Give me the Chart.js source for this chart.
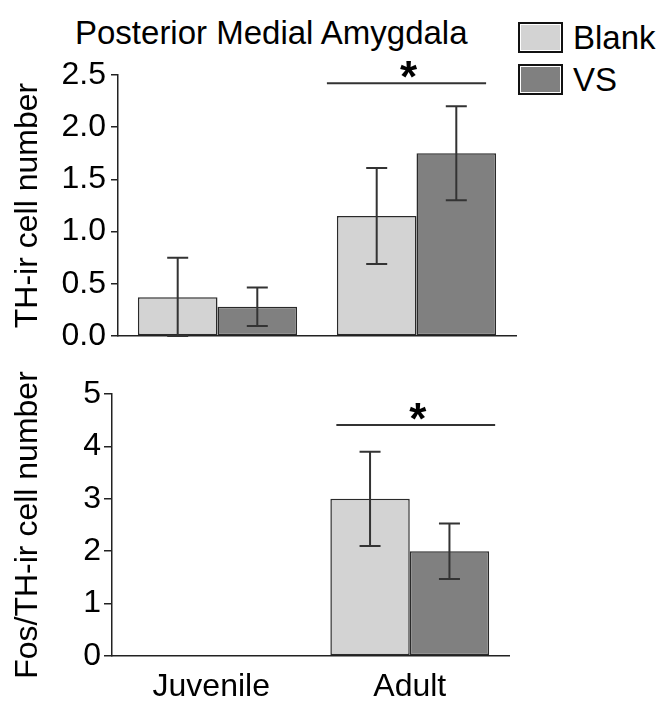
<!DOCTYPE html>
<html>
<head>
<meta charset="utf-8">
<script src="https://cdn.jsdelivr.net/npm/chart.js@4.4.1/dist/chart.umd.min.js"></script>
<style>
html,body{margin:0;padding:0;background:#fff;overflow:hidden}
#wrap{position:relative;width:662px;height:702px;font-family:"Liberation Sans",Arial,sans-serif;color:#000}
#title{position:absolute;left:75px;top:16px;font-size:33px;line-height:1;white-space:nowrap}
#legend{position:absolute;left:518px;top:22px}
.item{display:flex;align-items:center;height:31px;margin-bottom:11px;font-size:33px;line-height:1}
.box{width:41px;height:27px;border:2px solid #111;box-shadow:inset 0 0 0 1px #fff;margin-right:10px}
#thChart{position:absolute;left:0;top:0}
#fosChart{position:absolute;left:0;top:350px}
</style>
</head>
<body>
<div id="wrap">
  <div id="title">Posterior Medial Amygdala</div>
  <div id="legend"></div>
  <canvas id="thChart" width="662" height="362"></canvas>
  <canvas id="fosChart" width="662" height="352"></canvas>
</div>
<script>
// data
const groups = ['Juvenile','Adult'];
const seriesNames = ['Blank','VS'];
const seriesColors = ['#d3d3d3','#808080'];

const thBlank = [0.37, 1.15];
const thBlankErr = [0.38, 0.46];
const thVS = [0.28, 1.75];
const thVSErr = [0.185, 0.45];
const thTicks = [0, 0.5, 1.0, 1.5, 2.0, 2.5];
const thSig = {group:1, y:2.42, label:'*'};

const fosBlank = [0, 3.0];
const fosBlankErr = [0, 0.9];
const fosVS = [0, 2.0];
const fosVSErr = [0, 0.53];
const fosTicks = [0, 1, 2, 3, 4, 5];
const fosSig = {group:1, y:4.41, label:'*'};

const FONT = '"Liberation Sans", Arial, sans-serif';

// legend (html)
const legendEl = document.getElementById('legend');
seriesNames.forEach((n,i)=>{
  const it = document.createElement('div');
  it.className = 'item';
  const b = document.createElement('span');
  b.className = 'box';
  b.style.background = seriesColors[i];
  it.appendChild(b);
  it.appendChild(document.createTextNode(n));
  legendEl.appendChild(it);
});

const errorBars = {
  id:'errorBars',
  afterDatasetsDraw(chart, args, opts){
    const ctx = chart.ctx, y = chart.scales.y;
    ctx.save();
    ctx.strokeStyle = '#333';
    ctx.lineWidth = 2;
    chart.data.datasets.forEach((ds,i)=>{
      chart.getDatasetMeta(i).data.forEach((bar,j)=>{
        const e = ds.errors[j];
        if(!e) return;
        const v = ds.data[j];
        const top = y.getPixelForValue(v+e);
        const bot = y.getPixelForValue(Math.max(0, v-e));
        ctx.beginPath();
        ctx.moveTo(bar.x, top); ctx.lineTo(bar.x, bot);
        ctx.moveTo(bar.x-10.5, top); ctx.lineTo(bar.x+10.5, top);
        ctx.moveTo(bar.x-10.5, bot); ctx.lineTo(bar.x+10.5, bot);
        ctx.stroke();
      });
    });
    const sig = opts.sig;
    if(sig){
      const a = chart.getDatasetMeta(0).data[sig.group];
      const b = chart.getDatasetMeta(chart.data.datasets.length-1).data[sig.group];
      const x0 = a.x - a.width/2 + opts.shift;
      const x1 = b.x + b.width/2 + opts.shift;
      const ys = y.getPixelForValue(sig.y);
      ctx.beginPath();
      ctx.moveTo(x0, ys); ctx.lineTo(x1, ys);
      ctx.stroke();
      ctx.fillStyle = '#000';
      ctx.font = 'bold 44px ' + FONT;
      ctx.textAlign = 'center';
      ctx.textBaseline = 'alphabetic';
      ctx.fillText(sig.label, (x0+x1)/2 + 2, ys + 9);
    }
    ctx.restore();
  }
};

function panel(id, blank, blankErr, vs, vsErr, ticks, yTitle, sig, o){
  const ctx = document.getElementById(id).getContext('2d');
  return new Chart(ctx, {
    type:'bar',
    data:{
      labels: groups,
      datasets:[
        {label:seriesNames[0], data:blank, errors:blankErr, backgroundColor:seriesColors[0]},
        {label:seriesNames[1], data:vs, errors:vsErr, backgroundColor:seriesColors[1]}
      ]
    },
    options:{
      responsive:false,
      animation:false,
      devicePixelRatio:1,
      layout:{padding:{top:o.top, right:o.right, left:0, bottom:0}},
      datasets:{bar:{categoryPercentage:0.8, barPercentage:1.0, borderColor:'#2a2a2a', borderWidth:1.5, borderSkipped:false}},
      plugins:{
        legend:{display:false},
        tooltip:{enabled:false},
        errorBars:{sig:sig, shift:o.shift}
      },
      scales:{
        x:{
          offset:true,
          grid:{display:false},
          border:{display:true, color:'#222', width:1.5},
          ticks:{display:o.xLabels, color:'#000', padding:4, font:{size:32, family:FONT}},
          afterFit:(s)=>{ s.height = o.xHeight; }
        },
        y:{
          min:ticks[0],
          max:ticks[ticks.length-1],
          afterBuildTicks:(s)=>{ s.ticks = ticks.map(v=>({value:v})); },
          grid:{drawOnChartArea:false, drawTicks:true, tickLength:o.tickLen, color:'#222', lineWidth:1.5},
          border:{color:'#222', width:1.5},
          ticks:{color:'#000', padding:o.tickPad, font:{size:32, family:FONT}, callback:(v)=>o.fmt(v)},
          title:{display:true, text:yTitle, color:'#000', font:{size:32, family:FONT}, padding:{top:9, bottom:0}},
          afterFit:(s)=>{ s.width = o.yWidth; }
        }
      }
    },
    plugins:[errorBars]
  });
}

panel('thChart', thBlank, thBlankErr, thVS, thVSErr, thTicks, 'TH-ir cell number', thSig,
  {top:75, right:146, xHeight:26, xLabels:false, yWidth:118, tickLen:7, tickPad:5, shift:-10, fmt:(v)=>v.toFixed(1)});
panel('fosChart', fosBlank, fosBlankErr, fosVS, fosVSErr, fosTicks, 'Fos/TH-ir cell number', fosSig,
  {top:44, right:153, xHeight:46, xLabels:true, yWidth:112, tickLen:8, tickPad:3, shift:6, fmt:(v)=>String(v)});
</script>
</body>
</html>
